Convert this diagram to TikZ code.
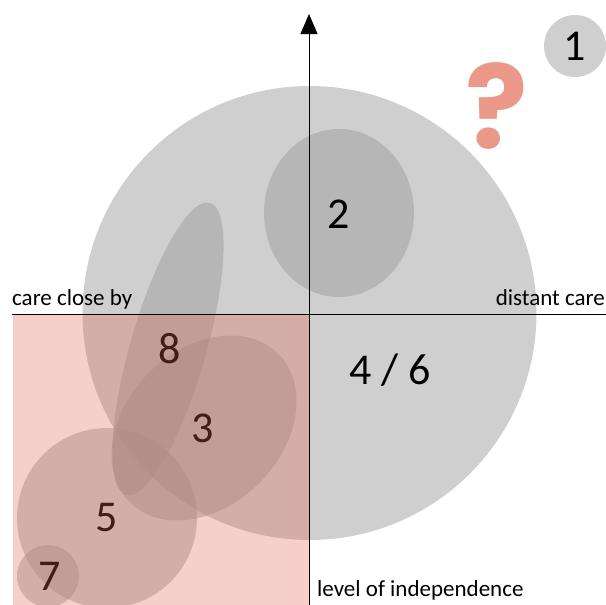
\documentclass[tikz,border=0pt]{standalone}
\usepackage{fontspec}
\setmainfont{Carlito}
\newfontfamily\qfont{Poppins}
\usetikzlibrary{shapes.geometric,arrows.meta}
\definecolor{blobgray}{RGB}{155,155,155}
\definecolor{pinkov}{RGB}{225,95,80}
\definecolor{qmark}{RGB}{236,152,136}
\begin{document}
\begin{tikzpicture}[x=1pt,y=-1pt,
  blob/.style={fill=blobgray, fill opacity=0.48, draw=none, inner sep=0pt, outer sep=0pt},
  num/.style={font=\fontsize{44}{44}\selectfont, inner sep=0pt},
  lbl/.style={font=\fontsize{23}{23}\selectfont, inner sep=0pt},
  axis/.style={draw=black, line width=1pt}]
\useasboundingbox (0,0) rectangle (606,605);
% shapes
\node[blob, circle, minimum size=454pt] (big) at (309.5,313) {};
\node[blob, circle, minimum size=62pt] (c1) at (575,46) {};
\node[blob, ellipse, minimum width=150pt, minimum height=168pt] (e2) at (339,213) {};
\node[blob, ellipse, minimum width=304pt, minimum height=76pt, rotate=74] (e8) at (168,349) {};
\node[blob, ellipse, minimum width=210pt, minimum height=156pt, rotate=45] (e3) at (204,428) {};
\node[blob, circle, minimum size=180pt] (c5) at (107,518) {};
\node[blob, circle, minimum size=62pt] (c7) at (48,576) {};
% numbers
\node[num] (n1) at (575,46) {1};
\node[num] (n2) at (339,214) {2};
\node[num] (n46) at (390,370) {4 / 6};
\node[num] (n8) at (169.5,349) {8};
\node[num] (n3) at (203,428) {3};
\node[num] (n5) at (107,517.5) {5};
\node[num] (n7) at (50,576) {7};
% question mark
\node[font=\fontsize{116}{116}\selectfont\qfont\bfseries, text=qmark, inner sep=0pt] (q) at (497,106) {?};
% pink quadrant overlay
\fill[pinkov, fill opacity=0.3] (13,314) rectangle (309,605);
% axes
\coordinate (vtop) at (309,14);
\coordinate (vbot) at (309,605);
\coordinate (hl) at (12,314);
\coordinate (hr) at (606,314);
\draw[axis, -{Triangle[width=17pt,length=20pt]}] (vbot) -- (vtop);
\draw[axis] (hl) -- (hr);
% labels
\node[lbl, anchor=base west] (lcl) at (12,305) {care close by};
\node[lbl, anchor=base east] (ldc) at (605,305) {distant care};
\node[lbl, anchor=base west] (lli) at (317,596) {level of independence};
\end{tikzpicture}
\end{document}
